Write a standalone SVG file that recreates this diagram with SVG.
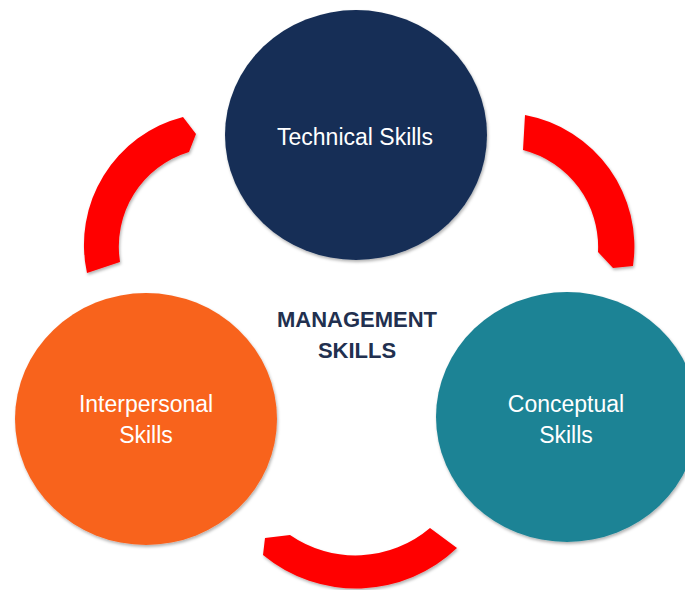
<svg xmlns="http://www.w3.org/2000/svg" width="685" height="590" viewBox="0 0 685 590">
<defs>
<filter id="sh" x="-20%" y="-20%" width="140%" height="140%">
<feDropShadow dx="1" dy="2" stdDeviation="1.5" flood-color="#000" flood-opacity="0.3"/>
</filter>
<style>
.arc{fill:#ff0000;filter:url(#sh)}
.node{filter:url(#sh)}
.lbl{font-family:"Liberation Sans",Arial,sans-serif;font-size:23px;fill:#ffffff;text-anchor:middle}
.title{font-family:"Liberation Sans",Arial,sans-serif;font-size:22px;font-weight:bold;fill:#22304f;text-anchor:middle}
</style>
</defs>
<rect width="685" height="590" fill="#ffffff"/>
<g id="connectors">
<path class="arc" d="M 87,273 A 132 132 0 0 1 183,117 L 196,134 L 189,152 A 99 99 0 0 0 120,262 Z"/>
<path class="arc" d="M 525,115 A 134 134 0 0 1 633,266 L 613,268 L 598,252 A 100 100 0 0 0 523,150 Z"/>
<path class="arc" d="M 457,548 A 146 146 0 0 1 263,555 L 265,538 L 290,535 A 115 115 0 0 0 430,528 Z"/>
</g>
<g id="technical">
<ellipse class="node" cx="356" cy="135" rx="131" ry="125" fill="#152e56"/>
<text class="lbl" x="355" y="145">Technical Skills</text>
</g>
<g id="interpersonal">
<ellipse class="node" cx="146" cy="419" rx="131" ry="126" fill="#f8631f"/>
<text class="lbl" x="146" y="412">Interpersonal</text>
<text class="lbl" x="146" y="443">Skills</text>
</g>
<g id="conceptual">
<ellipse class="node" cx="567" cy="417" rx="131" ry="125" fill="#1f8395"/>
<text class="lbl" x="566" y="412">Conceptual</text>
<text class="lbl" x="566" y="443">Skills</text>
</g>
<g id="center">
<text class="title" x="357" y="327">MANAGEMENT</text>
<text class="title" x="357" y="358">SKILLS</text>
</g>
</svg>
